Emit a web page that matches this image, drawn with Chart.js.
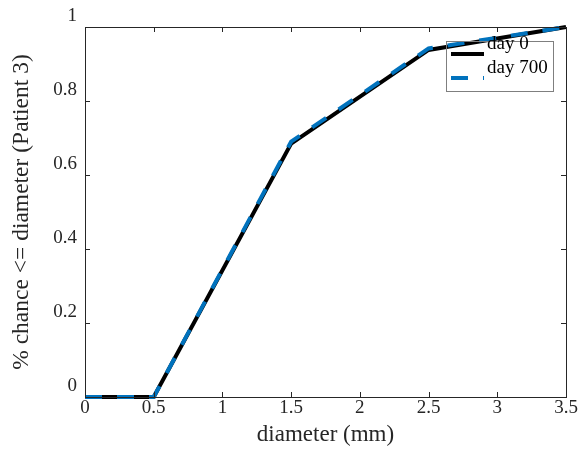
<!DOCTYPE html>
<html><head><meta charset="utf-8">
<script src="https://cdn.jsdelivr.net/npm/chart.js@4/dist/chart.umd.min.js"></script>
<style>html,body{margin:0;padding:0;background:#fff}#wrap{width:582px;height:449px}</style>
</head><body><div id="wrap"><canvas id="c" width="582" height="449"></canvas></div>
<script>
const diameters = [0, 0.5, 1.5, 2.5, 3.5];
const day0 = [0, 0, 0.685, 0.938, 1];
const day700 = [0, 0, 0.69, 0.942, 1];
const seriesNames = ['day 0', 'day 700'];
const xTickValues = [0, 0.5, 1, 1.5, 2, 2.5, 3, 3.5];
const yTickValues = [0, 0.2, 0.4, 0.6, 0.8, 1];
const xTickLabels = ['0', '0.5', '1', '1.5', '2', '2.5', '3', '3.5'];
const yTickLabels = ['0', '0.2', '0.4', '0.6', '0.8', '1'];
const xTitle = 'diameter (mm)';
const yTitle = '% chance <= diameter (Patient 3)';

const FONT = "'Liberation Serif', 'Times New Roman', serif";
const AX = '#262626';

const boxPlugin = {
  id: 'box',
  afterDatasetsDraw(chart) {
    const {ctx, chartArea: a, scales} = chart;
    ctx.save();
    ctx.strokeStyle = AX; ctx.lineWidth = 1;
    ctx.strokeRect(Math.round(a.left) + 0.5, Math.round(a.top) + 0.5, Math.round(a.right - a.left), Math.round(a.bottom - a.top));
    const tl = 5;
    ctx.beginPath();
    xTickValues.forEach(v => {
      const x = Math.round(scales.x.getPixelForValue(v)) + 0.5;
      ctx.moveTo(x, a.bottom); ctx.lineTo(x, a.bottom - tl);
      ctx.moveTo(x, a.top); ctx.lineTo(x, a.top + tl);
    });
    yTickValues.forEach(v => {
      const y = Math.round(scales.y.getPixelForValue(v)) + 0.5;
      ctx.moveTo(a.left, y); ctx.lineTo(a.left + tl, y);
      ctx.moveTo(a.right, y); ctx.lineTo(a.right - tl, y);
    });
    ctx.stroke();
    // legend
    const lx = 446, ly = 41, lw = 107, lh = 50;
    ctx.strokeStyle = '#7f7f7f'; ctx.lineWidth = 1;
    ctx.strokeRect(lx + 0.5, ly + 0.5, lw, lh);
    const ds = chart.data.datasets;
    const rows = [54, 78];
    const textY = [49, 73];
    ds.forEach((d, i) => {
      ctx.strokeStyle = d.borderColor; ctx.lineWidth = 4;
      ctx.setLineDash(d.borderDash || []);
      ctx.beginPath(); ctx.moveTo(451, rows[i]); ctx.lineTo(484, rows[i]); ctx.stroke();
      ctx.setLineDash([]);
      ctx.fillStyle = '#000';
      ctx.font = "19px " + FONT;
      ctx.textBaseline = 'alphabetic'; ctx.textAlign = 'left';
      ctx.fillText(d.label, 487, textY[i]);
    });
    ctx.restore();
  }
};

new Chart(document.getElementById('c'), {
  type: 'line',
  data: {
    datasets: [
      {label: seriesNames[0], data: diameters.map((x, i) => ({x, y: day0[i]})), borderColor: '#000000', borderWidth: 4, pointRadius: 0, tension: 0, order: 2, clip: false},
      {label: seriesNames[1], data: diameters.map((x, i) => ({x, y: day700[i]})), borderColor: '#0072BD', borderWidth: 4, borderDash: [17, 15], pointRadius: 0, tension: 0, order: 1, clip: false}
    ]
  },
  options: {
    responsive: false, animation: false,
    layout: {padding: {left: 0, top: 27, right: 16, bottom: 0}},
    plugins: {legend: {display: false}, tooltip: {enabled: false}},
    scales: {
      x: {
        type: 'linear', min: 0, max: 3.5,
        afterBuildTicks: s => { s.ticks = xTickValues.map(v => ({value: v})); },
        afterFit: s => { s.height = 52; },
        grid: {display: false, drawTicks: false}, border: {display: false},
        ticks: {padding: 0, color: '#262626', font: {family: FONT, size: 19}, maxRotation: 0,
          callback: (v, i) => xTickLabels[i]},
        title: {display: true, text: xTitle, color: '#262626', font: {family: FONT, size: 23}, padding: {top: 4, bottom: 0}}
      },
      y: {
        type: 'linear', min: 0, max: 1,
        afterBuildTicks: s => { s.ticks = yTickValues.map(v => ({value: v})); },
        afterFit: s => { s.width = 85; },
        grid: {display: false, drawTicks: false}, border: {display: false},
        ticks: {padding: 8, labelOffset: -11, color: '#262626', font: {family: FONT, size: 19},
          callback: (v, i) => yTickLabels[i]},
        title: {display: true, text: yTitle, color: '#262626', font: {family: FONT, size: 23.5}, padding: {top: 8, bottom: 0}}
      }
    }
  },
  plugins: [boxPlugin]
});
</script></body></html>
